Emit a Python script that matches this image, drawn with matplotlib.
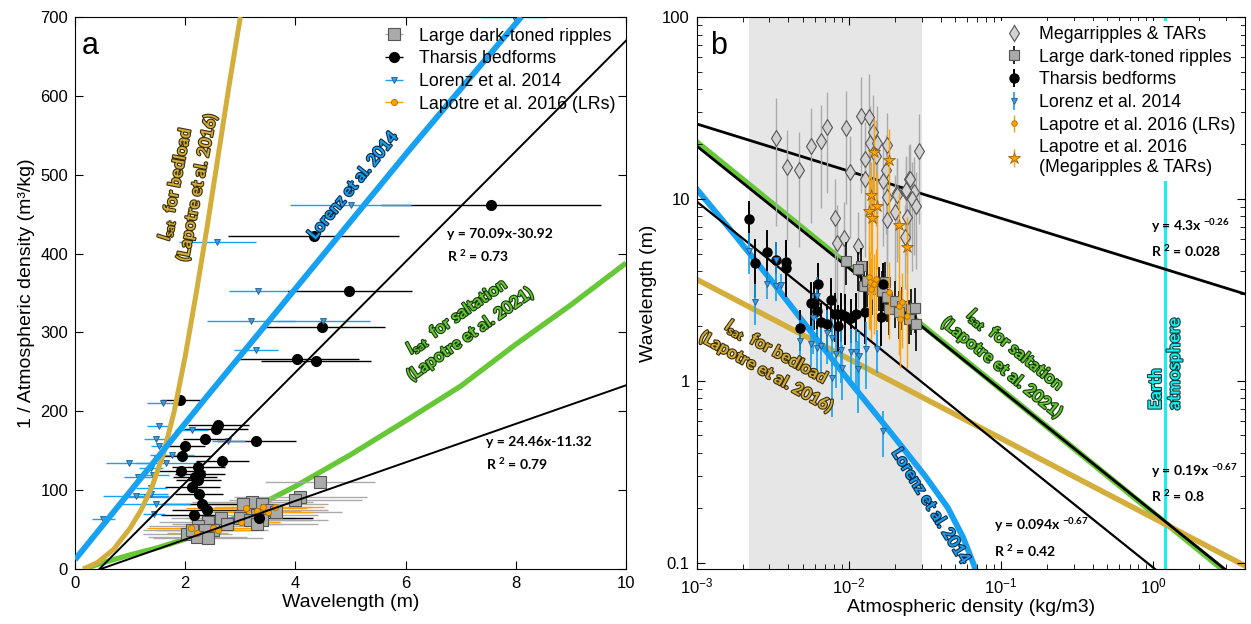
import numpy as np
import matplotlib
matplotlib.use('Agg')
import matplotlib.pyplot as plt
import matplotlib.patheffects as pe
from matplotlib.ticker import FuncFormatter, LogLocator, MultipleLocator

plt.rcParams['font.family'] = ['Liberation Sans', 'DejaVu Sans']
plt.rcParams['font.size'] = 12
plt.rcParams['mathtext.fontset'] = 'custom'
plt.rcParams['mathtext.rm'] = 'Lato:bold'
plt.rcParams['mathtext.it'] = 'Lato:bold:italic'
plt.rcParams['mathtext.bf'] = 'Lato:bold'

# ---------------- panel a : 1/rho (m3/kg) vs wavelength (m) ----------------
# Tharsis bedforms
th_a_x = [4.33, 4.98, 4.49, 4.02, 4.38, 7.55, 1.91, 2.6, 2.56, 2.36, 3.29, 2.0, 1.95, 2.67,
          2.24, 1.93, 2.27, 2.18, 2.24, 2.13, 2.25, 2.31, 2.4, 2.16, 3.33]
th_a_y = [422, 352, 307, 266, 264, 461, 215, 183, 177, 165, 163, 156, 143, 137,
          129, 124, 121, 117, 113, 104, 95, 83, 75, 68, 65]
th_a_xe = [1.55, 1.14, 1.13, 1.13, 1.0, 2.0, 0.35, 0.55, 0.58, 0.4, 0.72, 0.35, 0.52, 0.48,
           0.48, 0.43, 0.45, 0.4, 0.4, 0.5, 0.43, 0.75, 0.64, 0.6, 0.98]
# Lorenz et al. 2014
lo_a_x = [2.58, 3.32, 5.0, 3.2, 4.5, 3.29, 1.6, 1.53, 2.12, 1.47, 2.78, 1.53, 1.76, 0.98,
          1.65, 1.38, 1.15, 1.42, 1.38, 1.11, 1.31, 1.38, 1.47, 1.44, 0.51, 7.96]
lo_a_y = [415, 352, 461, 314, 314, 278, 211, 182, 176, 165, 163, 156, 145, 134,
          134, 128, 117, 119, 103, 93, 92, 95, 82, 70, 64, 700]
lo_a_xe = [0.7, 0.52, 1.1, 0.8, 0.85, 0.4, 0.29, 0.22, 0.3, 0.21, 0.3, 0.15, 0.4, 0.42,
           0.55, 0.22, 0.26, 0.28, 0.28, 0.6, 0.38, 0.3, 0.62, 0.2, 0.21, 0.6]
# Lapotre et al. 2016 (LRs)
lr_a_x = [3.11, 3.42, 3.62, 3.31, 3.51, 3.02, 2.11, 2.51, 2.6, 2.22]
lr_a_y = [78, 79, 79, 74, 72, 60, 52, 52, 50, 46]
lr_a_xe = [1.1, 0.9, 0.9, 0.8, 0.8, 0.7, 0.8, 0.7, 0.6, 0.55]
# Large dark-toned ripples
dk_a_x = [4.45, 4.09, 4.0, 3.22, 3.04, 3.4, 3.49, 3.64, 3.31, 3.0, 3.18, 3.4, 3.31, 2.64,
          2.42, 2.76, 2.24, 2.51, 2.36, 2.04, 2.22, 2.42, 2.13]
dk_a_y = [111, 92, 87, 85, 82, 83, 75, 72, 69, 65, 62, 62, 57, 65,
          60, 57, 55, 50, 49, 44, 41, 40, 49]
dk_a_xe = [1.0, 1.2, 1.2, 1.1, 1.0, 1.2, 1.1, 1.2, 1.1, 1.0, 1.1, 1.2, 1.1, 0.9,
           0.9, 1.0, 0.9, 1.0, 0.9, 0.8, 0.9, 1.0, 0.9]

# curves in panel a
bed_a_x = [0.15, 0.4, 0.7, 1.0, 1.2, 1.4, 1.6, 1.8, 2.0, 2.2, 2.4, 2.6, 2.8, 3.0]
bed_a_y = [0, 8, 25, 52, 75, 105, 145, 200, 270, 350, 435, 525, 615, 700]
lor_a_x = [0.0, 2.36, 6.05, 8.1]
lor_a_y = [12, 216, 530, 700]
sal_a_x = [0.15, 0.5, 1.0, 1.5, 2.0, 2.5, 3.0, 3.5, 4.0, 5.0, 6.0, 7.0, 8.0, 9.0, 10.0]
sal_a_y = [0, 8, 18, 27, 38, 52, 68, 87, 105, 145, 188, 232, 285, 335, 388]
fit1_a_x = [0.44, 10.0]
fit1_a_y = [0, 670]
fit2_a_x = [0.46, 10.0]
fit2_a_y = [0, 233]

# ---------------- panel b : wavelength (m) vs density (kg/m3) ----------------
mg_b_x = [3.3e-3, 3.9e-3, 4.7e-3, 5.6e-3, 6.6e-3, 7.2e-3, 9.6e-3, 1.02e-2, 1.2e-2, 1.35e-2,
          1.27e-2, 1.27e-2, 1.37e-2, 1.44e-2, 1.53e-2, 1.5e-2, 1.78e-2, 1.75e-2, 1.67e-2,
          2.48e-2, 2.88e-2, 2.37e-2, 2.67e-2, 2.07e-2, 8.1e-3, 8.3e-3, 9.3e-3, 1.15e-2,
          1.78e-2, 1.78e-2, 2.0e-2, 2.07e-2, 2.37e-2, 2.52e-2, 2.6e-2, 2.76e-2, 2.4e-2, 2.33e-2]
mg_b_y = [21.5, 14.9, 14.4, 19.4, 20.9, 24.7, 24.4, 14.1, 28.7, 28.3,
          16.6, 12.8, 20.4, 23.2, 20.2, 17.1, 19.7, 14.4, 12.5,
          12.8, 18.3, 10.9, 10.9, 10.7, 7.8, 5.7, 6.1, 5.5,
          7.6, 10.2, 8.5, 10.5, 11.2, 12.9, 10.0, 9.1, 7.9, 6.2]
mg_b_ye = [14.4, 9, 9, 12, 12, 14, 15, 8, 18, 20,
           10, 8, 12, 14, 12, 10, 10, 8, 7,
           7, 11, 6, 6, 6, 5, 3.5, 3.5, 3,
           4, 6, 5, 6, 6, 7, 6, 5, 4, 3]
st_b_x = [1.46e-2, 1.83e-2, 1.4e-2, 1.35e-2, 1.53e-2, 1.42e-2, 2.13e-2, 2.4e-2]
st_b_y = [18.0, 16.3, 10.5, 8.6, 9.1, 7.8, 7.2, 5.4]
st_b_ye = [10, 8, 5.5, 5, 5, 5, 3.5, 2.5]
dk_b_x = [9.6e-3, 1.2e-2, 1.15e-2, 1.26e-2, 1.31e-2, 1.57e-2, 1.65e-2, 1.78e-2, 1.83e-2,
          2.0e-2, 2.23e-2, 2.56e-2, 2.72e-2, 2.48e-2, 2.76e-2, 1.42e-2, 1.73e-2, 2.13e-2]
dk_b_y = [4.56, 4.28, 4.12, 3.33, 3.55, 3.33, 3.13, 2.9, 2.49,
          2.75, 2.59, 2.49, 2.52, 2.19, 2.06, 3.2, 3.5, 2.4]
dk_b_ye = [1.2, 1.1, 1.0, 0.9, 1.0, 0.9, 0.9, 0.8, 0.7,
           0.8, 0.7, 0.7, 0.7, 0.6, 0.6, 0.9, 1.0, 0.7]
lr_b_x = [1.35e-2, 1.37e-2, 1.4e-2, 1.46e-2, 1.5e-2, 1.83e-2, 2.13e-2, 2.23e-2, 2.4e-2, 2.16e-2]
lr_b_y = [3.72, 3.5, 3.2, 3.4, 3.63, 3.09, 2.59, 2.72, 2.28, 2.17]
lr_b_ye = [1.8, 1.6, 1.5, 1.6, 1.7, 1.4, 1.2, 1.2, 1.1, 1.0]
th_b_x = [2.2e-3, 2.4e-3, 2.9e-3, 3.3e-3, 3.85e-3, 3.85e-3, 4.76e-3, 6.3e-3, 5.6e-3, 5.9e-3,
          6.2e-3, 6.6e-3, 7.2e-3, 7.6e-3, 8.1e-3, 8.5e-3, 8.9e-3, 9.4e-3, 1.03e-2, 1.11e-2,
          1.27e-2, 1.62e-2, 1.67e-2]
th_b_y = [7.75, 4.45, 5.1, 4.6, 4.5, 4.17, 1.96, 3.41, 2.69, 2.69,
          2.43, 2.09, 2.04, 2.76, 2.34, 2.01, 2.34, 2.28, 2.22, 2.34,
          2.4, 2.25, 3.41]
th_b_ye = [2.0, 1.6, 1.6, 1.2, 1.4, 1.3, 0.5, 1.0, 0.8, 0.8,
           0.7, 0.6, 0.6, 0.9, 0.7, 0.6, 0.7, 0.7, 0.6, 0.7,
           0.8, 0.7, 1.0]
lo_b_x = [2.2e-3, 2.4e-3, 2.9e-3, 3.3e-3, 3.6e-3, 3.3e-3, 4.8e-3, 5.6e-3, 6.2e-3, 5.8e-3,
          6.2e-3, 7.2e-3, 7.7e-3, 6.6e-3, 7.7e-3, 8.9e-3, 9.0e-3, 1.03e-2, 1.11e-2, 1.16e-2,
          1.15e-2, 1.29e-2, 1.53e-2, 1.67e-2, 8.2e-3]
lo_b_y = [5.17, 2.72, 3.41, 3.33, 3.37, 4.6, 1.66, 1.59, 1.52, 2.2,
          2.93, 1.84, 1.71, 1.56, 1.03, 1.47, 1.18, 1.43, 1.43, 1.36,
          1.16, 1.5, 1.5, 0.53, 1.41]
lo_b_ye = [1.3, 0.7, 0.6, 0.6, 0.5, 1.2, 0.5, 0.4, 0.4, 0.8,
           0.8, 0.6, 0.5, 0.5, 0.4, 0.5, 0.4, 0.5, 0.5, 0.5,
           0.5, 0.6, 0.4, 0.15, 0.5]

# lines in panel b (end points / samples)
fitm_b_x = [1e-3, 4.0]
fitm_b_y = [25.8, 3.0]
fitd_b_x = [1e-3, 4.0]
fitd_b_y = [19.5, 0.075]
fitt_b_x = [1e-3, 4.0]
fitt_b_y = [9.65, 0.037]
sal_b_x = [1e-3, 4.0]
sal_b_y = [20.5, 0.073]
bed_b_x = [1e-3, 4.0]
bed_b_y = [3.6, 0.096]
lor_b_x = [1e-3, 1.78e-3, 3.16e-3, 5.62e-3, 1e-2, 1.78e-2, 3.16e-2, 4.47e-2, 5.62e-2, 6.6e-2, 7.2e-2]
lor_b_y = [11.3, 6.31, 3.47, 1.86, 1.0, 0.55, 0.30, 0.20, 0.138, 0.098, 0.08]
earth_rho = 1.2
shade_lo, shade_hi = 2.2e-3, 0.03

c_gold = '#d4ae3c'
c_blue = '#17a1f2'
c_green = '#66c836'
c_cyan = '#18f0f0'
c_orange = '#ffa200'

fig = plt.figure(figsize=(12.51, 6.24), dpi=100)
ax1 = fig.add_axes([0.060, 0.088, 0.4404, 0.8848])
ax2 = fig.add_axes([0.557, 0.088, 0.438, 0.8848])

outline = lambda c: [pe.withStroke(linewidth=1.6, foreground=c)]
lab_kw = dict(fontfamily='Lato', fontweight='bold', fontsize=12, ha='center', va='center')
eq_kw = dict(fontfamily='Lato', fontweight='bold', fontsize=10, ha='left', va='center',
             linespacing=1.6, zorder=3)

# ---- panel a ----
ax1.plot(sal_a_x, sal_a_y, color=c_green, lw=3.8, zorder=1, solid_capstyle='butt')
ax1.plot(bed_a_x, bed_a_y, color=c_gold, lw=3.6, zorder=3, solid_capstyle='butt')
ax1.plot(lor_a_x, lor_a_y, color=c_blue, lw=4.2, zorder=3, solid_capstyle='butt')
ax1.plot(fit1_a_x, fit1_a_y, color='k', lw=1.4, zorder=4)
ax1.plot(fit2_a_x, fit2_a_y, color='k', lw=1.4, zorder=4)

h_dk = ax1.errorbar(dk_a_x, dk_a_y, xerr=dk_a_xe, fmt='s', ms=8, mfc='#aaaaaa', mec='#555555',
                    mew=0.8, ecolor='#aaaaaa', elinewidth=1.0, capsize=0, zorder=2)
h_th = ax1.errorbar(th_a_x, th_a_y, xerr=th_a_xe, fmt='o', ms=7, mfc='k', mec='k',
                    ecolor='k', elinewidth=1.0, capsize=0, zorder=2)
h_lo = ax1.errorbar(lo_a_x, lo_a_y, xerr=lo_a_xe, fmt='v', ms=5, mfc='#3d9be0', mec='#1a5f96',
                    mew=0.6, ecolor=c_blue, elinewidth=1.0, capsize=0, zorder=2)
h_lr = ax1.errorbar(lr_a_x, lr_a_y, xerr=lr_a_xe, fmt='o', ms=4.5, mfc=c_orange, mec='#b07000',
                    mew=0.6, ecolor=c_orange, elinewidth=1.0, capsize=0, zorder=2)

ax1.set_xlim(0, 10)
ax1.set_ylim(0, 700)
ax1.xaxis.set_major_locator(MultipleLocator(2))
ax1.yaxis.set_major_locator(MultipleLocator(100))
ax1.tick_params(direction='in', top=True, right=True, length=6, labelsize=12, pad=5)
ax1.set_xlabel('Wavelength (m)', fontsize=14, labelpad=2)
ax1.set_ylabel('1 / Atmospheric density (m³/kg)', fontsize=14, labelpad=4)
ax1.text(0.013, 0.948, 'a', transform=ax1.transAxes, fontsize=22, ha='left', va='center')

ax1.legend([h_dk, h_th, h_lo, h_lr],
           ['Large dark-toned ripples', 'Tharsis bedforms', 'Lorenz et al. 2014',
            'Lapotre et al. 2016 (LRs)'],
           loc='upper right', frameon=False, fontsize=12.8, handlelength=1.4,
           labelspacing=0.32, borderaxespad=0.2, handletextpad=0.7)

ax1.text(2.0, 486, '$l_{\\mathrm{sat}}$  for bedload\n(Lapotre et al. 2016)', color=c_gold,
         rotation=79, path_effects=outline('#3b2f08'), linespacing=1.3, **lab_kw)
ax1.text(5.04, 486, 'Lorenz et al. 2014', color=c_blue, rotation=51,
         path_effects=outline('#0c2c4a'), **lab_kw)
ax1.text(7.04, 310, '$l_{\\mathrm{sat}}$  for saltation\n(Lapotre et al. 2021)', color=c_green,
         rotation=35, path_effects=outline('#183a08'), linespacing=1.3, **lab_kw)
ax1.text(6.76, 410, 'y = 70.09x-30.92\nR $^{2}$ = 0.73', **eq_kw)
ax1.text(7.45, 146, 'y = 24.46x-11.32\nR $^{2}$ = 0.79', **eq_kw)

# ---- panel b ----
ax2.set_xscale('log')
ax2.set_yscale('log')
ax2.axvspan(shade_lo, shade_hi, color='#e6e6e6', zorder=0, lw=0)
ax2.axvline(earth_rho, color=c_cyan, lw=2.2, zorder=1.2)
ax2.plot(sal_b_x, sal_b_y, color=c_green, lw=4.2, zorder=1.3)
ax2.plot(bed_b_x, bed_b_y, color=c_gold, lw=4.0, zorder=1.3)
ax2.plot(lor_b_x, lor_b_y, color=c_blue, lw=4.2, zorder=1.3)
ax2.plot(fitm_b_x, fitm_b_y, color='k', lw=2.0, zorder=1.5)
ax2.plot(fitd_b_x, fitd_b_y, color='k', lw=2.0, zorder=1.5)
ax2.plot(fitt_b_x, fitt_b_y, color='k', lw=1.6, zorder=1.5)

h_mg = ax2.errorbar(mg_b_x, mg_b_y, yerr=mg_b_ye, fmt='d', ms=8, mfc='#d2d2d2', mec='#555555',
                    mew=0.8, ecolor='#aaaaaa', elinewidth=1.0, capsize=0, zorder=2)
h_dkb = ax2.errorbar(dk_b_x, dk_b_y, yerr=dk_b_ye, fmt='s', ms=7.5, mfc='#aaaaaa', mec='#555555',
                     mew=0.8, ecolor='k', elinewidth=1.2, capsize=0, zorder=2.2)
h_thb = ax2.errorbar(th_b_x, th_b_y, yerr=th_b_ye, fmt='o', ms=6.5, mfc='k', mec='k',
                     ecolor='k', elinewidth=1.4, capsize=0, zorder=2.3)
h_lob = ax2.errorbar(lo_b_x, lo_b_y, yerr=lo_b_ye, fmt='v', ms=5, mfc='#3d9be0', mec='#1a5f96',
                     mew=0.6, ecolor=c_blue, elinewidth=1.2, capsize=0, zorder=2.3)
h_lrb = ax2.errorbar(lr_b_x, lr_b_y, yerr=lr_b_ye, fmt='o', ms=4, mfc=c_orange, mec='#b07000',
                     mew=0.6, ecolor=c_orange, elinewidth=1.0, capsize=0, zorder=2.4)
h_stb = ax2.errorbar(st_b_x, st_b_y, yerr=st_b_ye, fmt='*', ms=9, mfc=c_orange, mec='#9a6400',
                     mew=0.6, ecolor=c_orange, elinewidth=1.0, capsize=0, zorder=2.4)

ax2.set_xlim(1e-3, 4.0)
ax2.set_ylim(0.092, 100)
ax2.yaxis.set_major_formatter(FuncFormatter(lambda v, p: '%g' % v))
ax2.xaxis.set_minor_locator(LogLocator(base=10, subs=np.arange(2, 10)))
ax2.yaxis.set_minor_locator(LogLocator(base=10, subs=np.arange(2, 10)))
ax2.tick_params(which='both', direction='in', top=True, right=True, labelsize=12, pad=5)
ax2.tick_params(which='major', length=6)
ax2.tick_params(which='minor', length=3.5)
ax2.set_xlabel('Atmospheric density (kg/m3)', fontsize=14, labelpad=2)
ax2.set_ylabel('Wavelength (m)', fontsize=14, labelpad=4)
ax2.text(0.024, 0.948, 'b', transform=ax2.transAxes, fontsize=22, ha='left', va='center')

lg = ax2.legend([h_mg, h_dkb, h_thb, h_lob, h_lrb, h_stb],
                ['Megarripples & TARs', 'Large dark-toned ripples', 'Tharsis bedforms',
                 'Lorenz et al. 2014', 'Lapotre et al. 2016 (LRs)',
                 'Lapotre et al. 2016\n(Megaripples & TARs)'],
                loc='upper right', frameon=True, fontsize=12.8, handlelength=1.4,
                labelspacing=0.32, borderaxespad=0.2, handletextpad=0.7, borderpad=0.3)
lg.get_frame().set_edgecolor('none')
lg.get_frame().set_facecolor('white')
lg.get_frame().set_alpha(1.0)
lg.set_zorder(5)

ax2.text(3.11e-3, 1.28, '$l_{\\mathrm{sat}}$  for bedload\n(Lapotre et al. 2016)', color=c_gold,
         rotation=-29, path_effects=outline('#3b2f08'), linespacing=1.3, **lab_kw)
ax2.text(0.0345, 0.205, 'Lorenz et al. 2014', color=c_blue, rotation=-58,
         path_effects=outline('#0c2c4a'), **lab_kw)
ax2.text(0.113, 1.33, '$l_{\\mathrm{sat}}$  for saltation\n(Lapotre et al. 2021)', color=c_green,
         rotation=-39, path_effects=outline('#183a08'), linespacing=1.3, **lab_kw)
ax2.text(earth_rho, 0.69, 'Earth\natmosphere', color=c_cyan, fontfamily='Lato',
         fontweight='bold', fontsize=12.5, rotation=90, ha='center', va='bottom',
         multialignment='left', path_effects=outline('#0a4040'), linespacing=1.2, zorder=3)
ax2.text(0.97, 6.1, 'y = 4.3x $^{-0.26}$\nR $^{2}$ = 0.028', **eq_kw)
ax2.text(0.97, 0.274, 'y = 0.19x $^{-0.67}$\nR $^{2}$ = 0.8', **eq_kw)
ax2.text(0.09, 0.137, 'y = 0.094x $^{-0.67}$\nR $^{2}$ = 0.42', **eq_kw)

fig.savefig('out.png', dpi=100)
